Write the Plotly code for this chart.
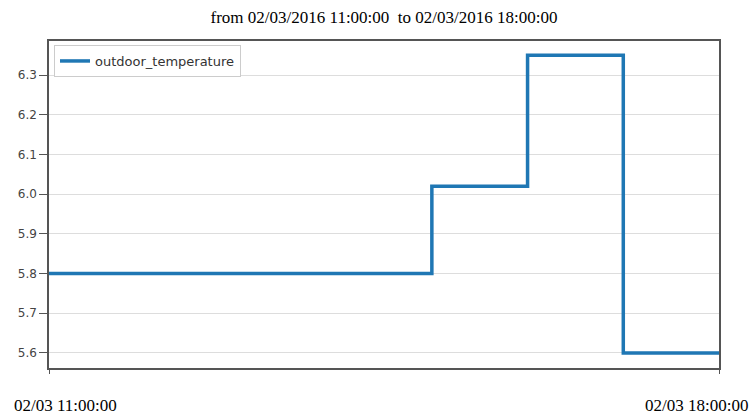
import plotly.graph_objects as go

times = ["2016-02-03 11:00:00", "2016-02-03 12:00:00", "2016-02-03 13:00:00",
         "2016-02-03 14:00:00", "2016-02-03 15:00:00", "2016-02-03 16:00:00",
         "2016-02-03 17:00:00", "2016-02-03 18:00:00"]
outdoor_temperature = [5.8, 5.8, 5.8, 5.8, 6.02, 6.35, 5.6, 5.6]
y_ticks = [5.6, 5.7, 5.8, 5.9, 6.0, 6.1, 6.2, 6.3]
x_labels = ["02/03 11:00:00", "02/03 18:00:00"]
title_text = "from 02/03/2016 11:00:00  to 02/03/2016 18:00:00"

W, H = 751, 417
L, R, T, B = 49, 32, 41, 49
pw = W - L - R
ph = H - T - B

fig = go.Figure()
fig.add_trace(go.Scatter(
    x=times, y=outdoor_temperature, mode="lines", line_shape="hv",
    name="outdoor_temperature",
    line=dict(color="#1f77b4", width=3.5),
))

fig.update_layout(
    width=W, height=H,
    margin=dict(l=L, r=R, t=T, b=B),
    paper_bgcolor="white", plot_bgcolor="white",
    title=dict(text=title_text, x=0.5, xref="paper", y=1 - 17 / H, yanchor="middle",
               font=dict(family="Liberation Serif", size=17, color="black")),
    showlegend=True,
    legend=dict(x=(54 - L) / pw, y=1 - (45 - T) / ph, xanchor="left", yanchor="top",
                bgcolor="white", bordercolor="#cccccc", borderwidth=1,
                font=dict(family="DejaVu Sans", size=13, color="#333333")),
    xaxis=dict(
        range=[times[0], times[-1]],
        showgrid=False, zeroline=False,
        showline=True, linecolor="#555555", linewidth=1.5, mirror=True,
        tickvals=[times[0], times[-1]], ticktext=["", ""],
        ticks="outside", ticklen=4, tickcolor="#555555",
    ),
    yaxis=dict(
        range=[5.562, 6.386],
        tickvals=y_ticks, ticktext=[f"{v:.1f}" for v in y_ticks],
        showgrid=True, gridcolor="#dddddd", gridwidth=1.2, zeroline=False,
        showline=True, linecolor="#555555", linewidth=1.5, mirror=True,
        ticks="outside", ticklen=8, tickcolor="#555555",
        tickfont=dict(family="DejaVu Sans", size=12, color="#444444"),
    ),
)

label_y = -(405 - (T + ph)) / ph
fig.add_annotation(text=x_labels[0], xref="paper", yref="paper",
                   x=(12 - L) / pw, y=label_y, xanchor="left", yanchor="middle",
                   showarrow=False, font=dict(family="Liberation Serif", size=17, color="black"))
fig.add_annotation(text=x_labels[1], xref="paper", yref="paper",
                   x=(750 - L) / pw, y=label_y, xanchor="right", yanchor="middle",
                   showarrow=False, font=dict(family="Liberation Serif", size=17, color="black"))

fig.write_html("out.html", config={"displayModeBar": False},
               post_script="document.body.style.margin='0';")
